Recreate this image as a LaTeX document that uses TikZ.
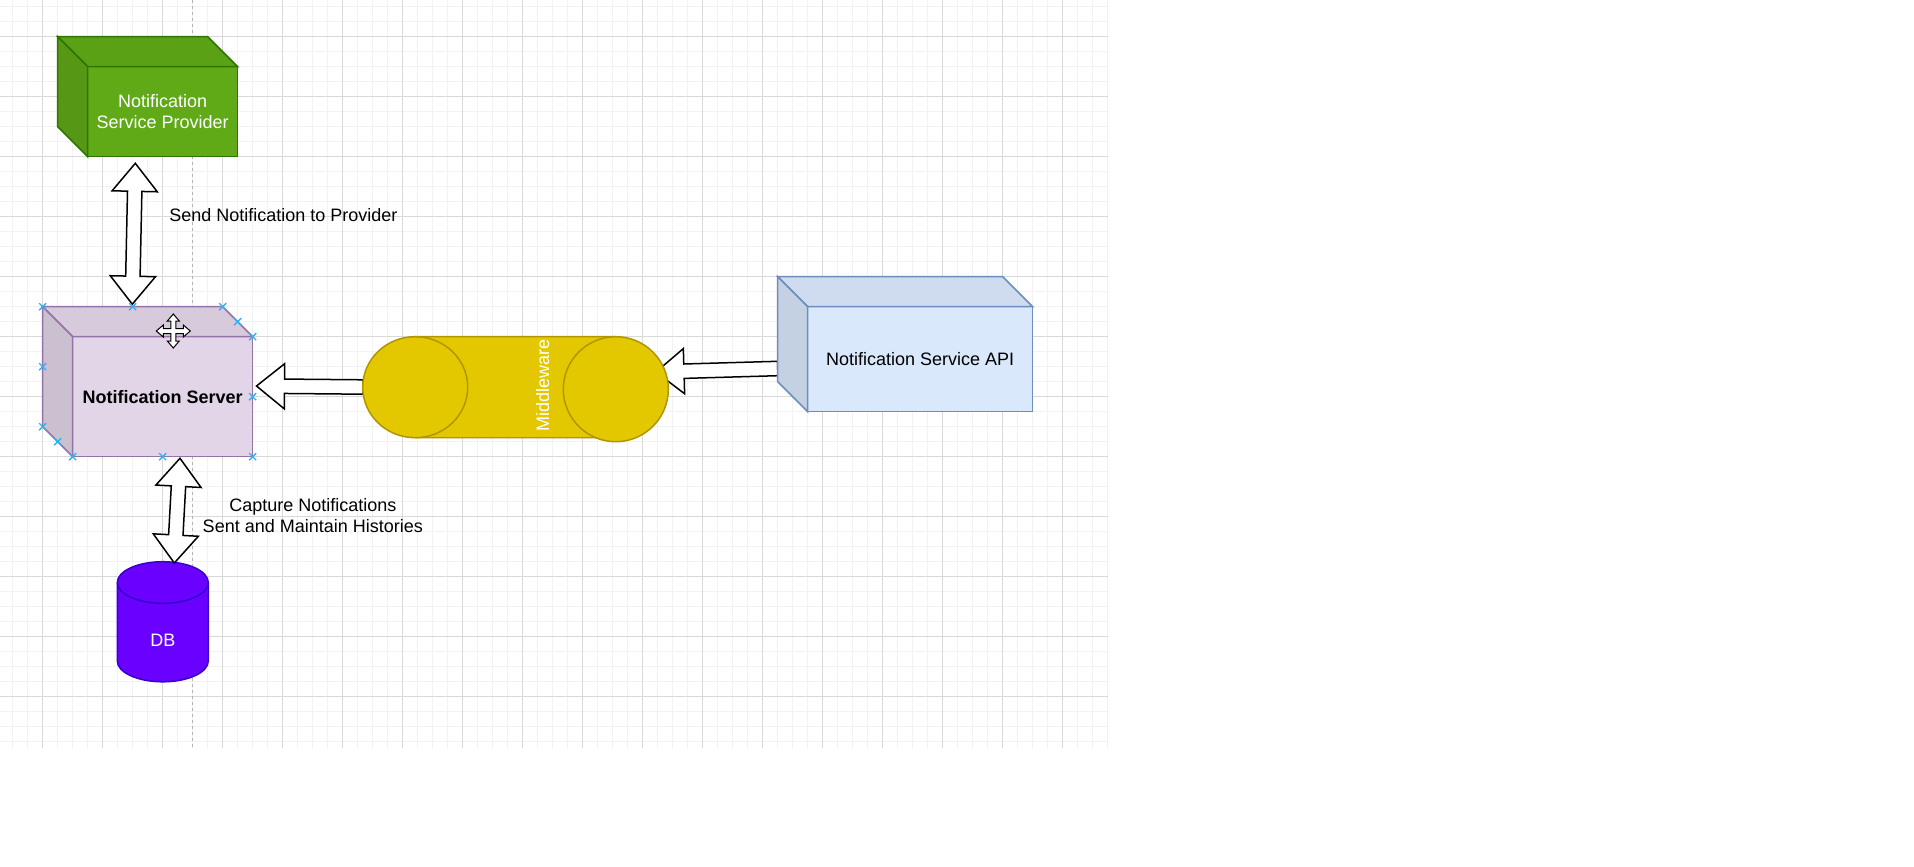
\documentclass[tikz,border=0pt]{standalone}
\usepackage{fontspec}
\setmainfont{Liberation Sans}
\usetikzlibrary{calc}
\definecolor{gridminor}{HTML}{F2F2F2}
\definecolor{gridmajor}{HTML}{D9D9D9}
\definecolor{guide}{HTML}{B3B3B3}
\definecolor{provfill}{HTML}{60A917}
\definecolor{provline}{HTML}{2D7600}
\definecolor{servfill}{HTML}{E1D5E7}
\definecolor{servline}{HTML}{9673A6}
\definecolor{apifill}{HTML}{DAE8FC}
\definecolor{apiline}{HTML}{6C8EBF}
\definecolor{mwfill}{HTML}{E3C800}
\definecolor{mwline}{HTML}{B09500}
\definecolor{dbfill}{HTML}{6A00FF}
\definecolor{dbline}{HTML}{3700CC}
\definecolor{handle}{HTML}{29B6F2}
\newcommand\cubefaces[3]{%
  \draw[draw=#3, fill=#2!95!black, line width=1.5pt, line join=miter]
    (#1.north west) -- ($(#1.north west)+(-30,-30)$) -- ($(#1.north east)+(-30,-30)$) -- (#1.north east) -- cycle;
  \draw[draw=#3, fill=#2!90!black, line width=1.5pt, line join=miter]
    (#1.north west) -- ($(#1.north west)+(-30,-30)$) -- ($(#1.south west)+(-30,-30)$) -- (#1.south west) -- cycle;
}
\newcommand\singleblock[3]{%
  \coordinate (#1h) at ($(#3)!28pt!(#2)$);
  \draw[blockarr] ($(#2)!7.2pt!90:(#3)$) -- ($(#1h)!7.2pt!90:(#3)$) -- ($(#1h)!22.6pt!90:(#3)$) -- (#3)
    -- ($(#1h)!22.6pt!-90:(#3)$) -- ($(#1h)!7.2pt!-90:(#3)$) -- ($(#2)!7.2pt!-90:(#3)$) -- cycle;
}
\newcommand\doubleblock[3]{%
  \coordinate (#1p) at ($(#2)!28pt!(#3)$);
  \coordinate (#1q) at ($(#3)!28pt!(#2)$);
  \draw[blockarr] (#2) -- ($(#1p)!22.6pt!90:(#3)$) -- ($(#1p)!7.2pt!90:(#3)$) -- ($(#1q)!7.2pt!90:(#3)$)
    -- ($(#1q)!22.6pt!90:(#3)$) -- (#3) -- ($(#1q)!22.6pt!-90:(#3)$) -- ($(#1q)!7.2pt!-90:(#3)$)
    -- ($(#1p)!7.2pt!-90:(#3)$) -- ($(#1p)!22.6pt!-90:(#3)$) -- cycle;
}
\begin{document}
\begin{tikzpicture}[x=1pt,y=-1pt,
  every node/.style={inner sep=0pt, outer sep=0pt, font=\fontsize{18}{21.6}\selectfont},
  minorgrid/.style={draw=gridminor, line width=1.5pt},
  majorgrid/.style={draw=gridmajor, line width=1pt},
  face/.style={rectangle, line width=1.5pt},
  blockarr/.style={draw=black, fill=white, line width=1.5pt, line join=miter},
  selx/.style={draw=handle, line width=1.3pt}]
\useasboundingbox (0,0) rectangle (1914,867);
\fill[white] (0,0) rectangle (1914,867);
% grid
\foreach \i in {0,...,73} \draw[minorgrid] ({12.3+15*\i},0) -- ({12.3+15*\i},747.5);
\foreach \j in {0,...,49} \draw[minorgrid] (0,{6.3+15*\j}) -- (1107.5,{6.3+15*\j});
\foreach \i in {0,...,17} \draw[majorgrid] ({42.3+60*\i},0) -- ({42.3+60*\i},747.5);
\foreach \j in {0,...,11} \draw[majorgrid] (0,{36.3+60*\j}) -- (1107.5,{36.3+60*\j});
% guide
\coordinate (gtop) at (192.7,0);
\coordinate (gbot) at (192.7,747.5);
\draw[guide, line width=1pt, dash pattern=on 3pt off 3pt] (gtop) -- (gbot);
% arrows under middleware
\coordinate (a3tail) at (363,387);
\coordinate (a3tip) at (256.5,386);
\singleblock{a3}{a3tail}{a3tip}
\coordinate (a4tail) at (777.7,368.5);
\coordinate (a4tip) at (656,372);
\singleblock{a4}{a4tail}{a4tip}
% middleware cylinder
\filldraw[fill=mwfill, draw=mwline, line width=1.5pt]
  (615.8,336.7) -- (415.2,336.7) arc[start angle=90, end angle=270, x radius=52.5pt, y radius=50.5pt]
  -- (615.8,437.7);
\fill[mwfill] (414,337.5) rectangle (616,437);
\draw[mwline, line width=1.5pt] (415.2,336.7) arc[start angle=90, end angle=-90, x radius=52.5pt, y radius=50.5pt];
\filldraw[fill=mwfill, draw=mwline, line width=1.5pt] (615.8,389.2) ellipse[x radius=52.5pt, y radius=52.5pt];
\node[text=white, rotate=90] (mw) at (542.7,385.8) {Middleware};
% cubes
\node[face, fill=provfill, draw=provline, minimum width=150pt, minimum height=90pt, text=white, align=center]
  (prov) at (162.7,111.7) {Notification\\Service Provider};
\cubefaces{prov}{provfill}{provline}
\node[face, fill=servfill, draw=servline, minimum width=180pt, minimum height=120pt, font=\fontsize{18}{21.6}\selectfont\bfseries]
  (server) at (162.7,396.7) {Notification Server};
\cubefaces{server}{servfill}{servline}
\node[face, fill=apifill, draw=apiline, minimum width=225pt, minimum height=105pt]
  (api) at (920.2,359.2) {Notification Service API};
\cubefaces{api}{apifill}{apiline}
% DB cylinder
\filldraw[fill=dbfill, draw=dbline, line width=1.5pt]
  (117.3,582.5) -- (117.3,661) arc[start angle=180, end angle=360, x radius=45.5pt, y radius=20.8pt]
  -- (208.3,582.5) arc[start angle=0, end angle=180, x radius=45.5pt, y radius=20.8pt] -- cycle;
\draw[dbline, line width=1.5pt] (117.3,582.5) arc[start angle=180, end angle=360, x radius=45.5pt, y radius=20.8pt];
\node[text=white] (db) at (162.8,640) {DB};
% double arrows
\coordinate (a1top) at (135.3,163.3);
\coordinate (a1bot) at (132.3,304.2);
\doubleblock{a1}{a1top}{a1bot}
\coordinate (a2top) at (180,458.3);
\coordinate (a2bot) at (174.3,563);
\doubleblock{a2}{a2top}{a2bot}
% labels
\node[anchor=west] (lab1) at (169.3,215) {Send Notification to Provider};
\node[align=center] (lab2) at (312.8,515.5) {Capture Notifications\\Sent and Maintain Histories};
% selection handles
\foreach \hx/\hy in {42.7/306.7, 132.7/306.7, 222.7/306.7, 237.7/321.7, 252.7/336.7, 42.7/366.7,
  252.7/396.7, 42.7/426.7, 57.7/441.7, 72.7/456.7, 162.7/456.7, 252.7/456.7}
  \draw[selx] (\hx-3.5,\hy-3.5) -- (\hx+3.5,\hy+3.5) (\hx-3.5,\hy+3.5) -- (\hx+3.5,\hy-3.5);
% move cursor
\draw[fill=white, draw=black, line width=1pt, line join=miter, shift={(173.3,331)}]
  (0,-17) -- (6,-10) -- (2.5,-10) -- (2.5,-2.5) -- (10,-2.5) -- (10,-6) -- (17,0) -- (10,6) -- (10,2.5)
  -- (2.5,2.5) -- (2.5,10) -- (6,10) -- (0,17) -- (-6,10) -- (-2.5,10) -- (-2.5,2.5) -- (-10,2.5)
  -- (-10,6) -- (-17,0) -- (-10,-6) -- (-10,-2.5) -- (-2.5,-2.5) -- (-2.5,-10) -- (-6,-10) -- cycle;
\end{tikzpicture}
\end{document}
